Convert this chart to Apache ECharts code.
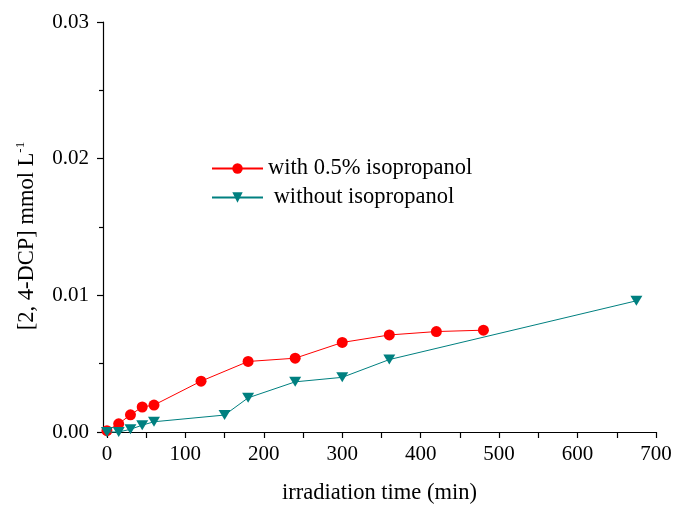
<!DOCTYPE html>
<html>
<head>
<meta charset="utf-8">
<script src="https://cdn.jsdelivr.net/npm/echarts@6/dist/echarts.min.js"></script>
<style>html,body{margin:0;padding:0;background:#fff}#c{width:675px;height:506px}</style>
</head>
<body>
<div id="c"></div>
<script>
const withTime = [0, 15, 30, 45, 60, 120, 180, 240, 300, 360, 420, 480];
const withValue = [0.0001, 0.0006, 0.00126, 0.00183, 0.00197, 0.00372, 0.00516, 0.0054, 0.00655, 0.0071, 0.00735, 0.00745];
const withoutTime = [0, 15, 30, 45, 60, 150, 180, 240, 300, 360, 675];
const withoutValue = [0, 0, 0.0002, 0.0005, 0.00075, 0.00124, 0.0025, 0.00367, 0.004, 0.0053, 0.0096];
const xTickValues = [0, 50, 100, 150, 200, 250, 300, 350, 400, 450, 500, 550, 600, 650, 700];
const xLabelValues = [0, 100, 200, 300, 400, 500, 600, 700];
const seriesNames = ['with 0.5% isopropanol', ' without isopropanol'];

const FONT = '"Liberation Serif", "Times New Roman", serif';
const chart = echarts.init(document.getElementById('c'), null, {renderer: 'canvas'});
chart.setOption({
  backgroundColor: '#fff',
  animation: false,
  textStyle: {fontFamily: FONT, color: '#000'},
  grid: {left: 103, right: 19, top: 22, bottom: 74, containLabel: false, outerBoundsMode: 'none'},
  legend: {
    left: 211, top: 157, orient: 'vertical', padding: 0,
    itemWidth: 51, itemHeight: 13, itemGap: 6,
    textStyle: {fontFamily: FONT, fontSize: 22.5, color: '#000'},
    data: seriesNames
  },
  xAxis: {
    type: 'value', min: -5, max: 700,
    name: 'irradiation time (min)', nameLocation: 'middle', nameGap: 50,
    nameTextStyle: {fontFamily: FONT, fontSize: 22.5, color: '#000'},
    axisLine: {lineStyle: {color: '#000', width: 1.2}},
    axisTick: {show: true, inside: false, length: 6, customValues: xTickValues, lineStyle: {color: '#000', width: 1.2}},
    axisLabel: {customValues: xLabelValues, fontFamily: FONT, fontSize: 21, color: '#000', margin: 12},
    splitLine: {show: false}
  },
  yAxis: {
    type: 'value', min: 0, max: 0.03, interval: 0.01,
    name: '{a|[2, 4-DCP] mmol L}{b|-1}', nameLocation: 'middle', nameGap: 62,
    nameTextStyle: {
      padding: [0, 18, 0, 0],
      rich: {
        a: {fontFamily: FONT, fontSize: 22.5, color: '#000'},
        b: {fontFamily: FONT, fontSize: 13, color: '#000', padding: [0, 0, 14, 0]}
      }
    },
    axisLine: {show: true, onZero: false, lineStyle: {color: '#000', width: 1.2}},
    axisTick: {show: true, inside: false, length: 6, lineStyle: {color: '#000', width: 1.2}},
    minorTick: {show: true, splitNumber: 2, length: 4, lineStyle: {color: '#000', width: 1.2}},
    axisLabel: {fontFamily: FONT, fontSize: 21, color: '#000', margin: 14, formatter: v => v.toFixed(2)},
    splitLine: {show: false}
  },
  series: [
    {
      name: seriesNames[0], type: 'line',
      data: withTime.map((t, i) => [t, withValue[i]]),
      symbol: 'circle', symbolSize: 11,
      itemStyle: {color: '#ff0000'},
      lineStyle: {color: '#ff0000', width: 1},
      clip: false, z: 3
    },
    {
      name: seriesNames[1], type: 'line',
      data: withoutTime.map((t, i) => [t, withoutValue[i]]),
      symbol: 'triangle', symbolRotate: 180, symbolSize: [12, 10],
      itemStyle: {color: '#008080'},
      lineStyle: {color: '#008080', width: 1},
      clip: false, z: 4
    }
  ]
});
</script>
</body>
</html>
